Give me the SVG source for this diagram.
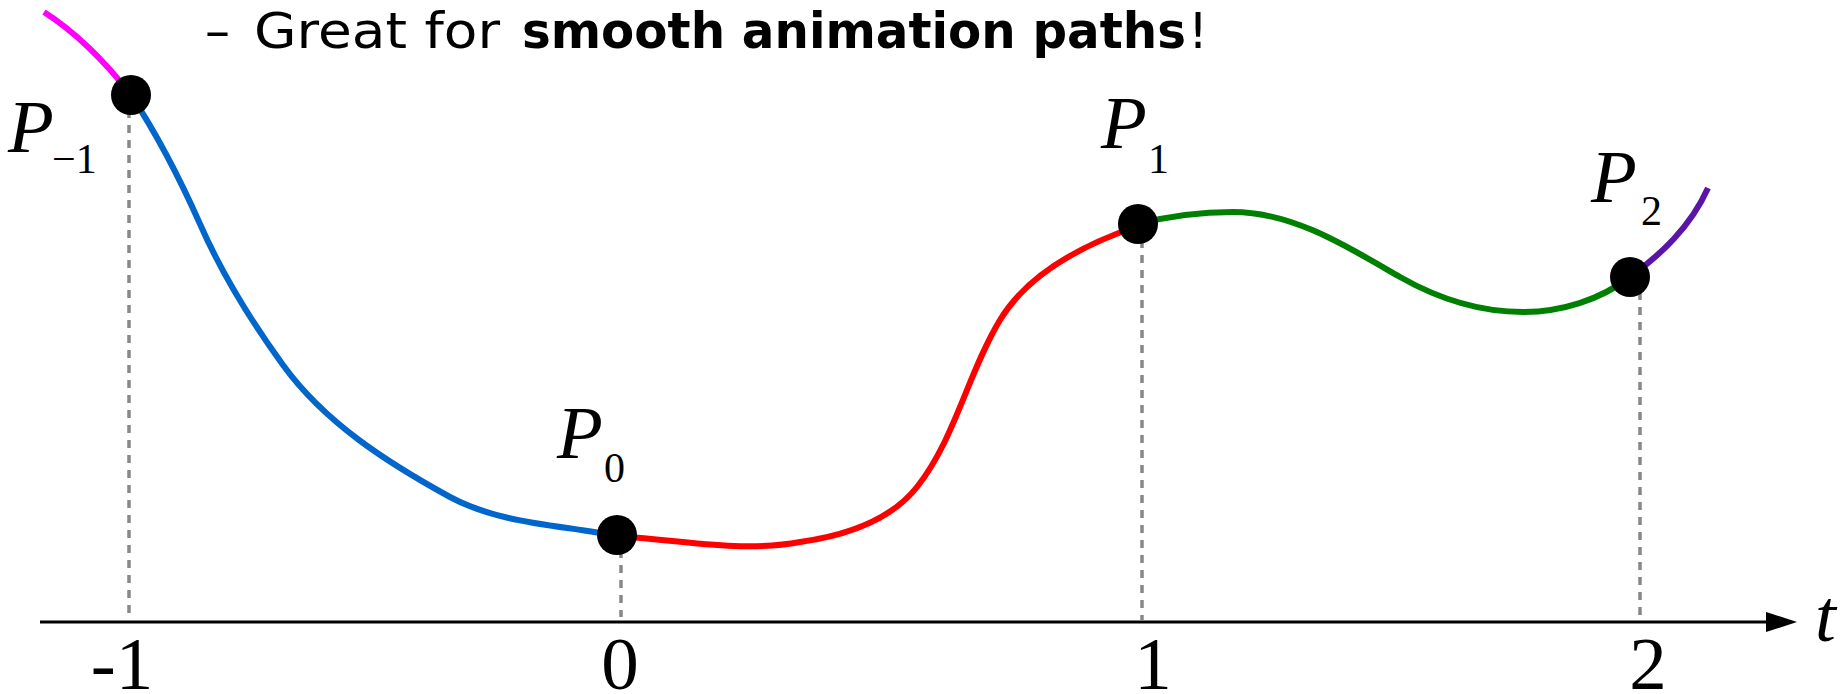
<svg xmlns="http://www.w3.org/2000/svg" width="1846" height="694" viewBox="0 0 1846 694">
<style>
.curve{fill:none;stroke-width:6;stroke-linecap:butt}
.guide{stroke:#888888;stroke-width:3.5;stroke-dasharray:8 7;fill:none}
.pt{fill:#000}
.lbl{font-family:"Liberation Serif","Times New Roman",serif;font-style:italic;fill:#000}
.sub{font-family:"Liberation Serif","Times New Roman",serif;font-style:normal;font-size:42px;fill:#000}
.tick{font-family:"Liberation Serif","Times New Roman",serif;font-size:75px;fill:#000;text-anchor:middle}
.title{font-family:"DejaVu Sans","Liberation Sans",sans-serif;font-size:50px;fill:#000}
</style>
<rect width="1846" height="694" fill="#fff"/>
<text class="title" y="48"><tspan x="205">–</tspan><tspan x="254" textLength="246" lengthAdjust="spacingAndGlyphs">Great for</tspan><tspan x="522" font-weight="bold" textLength="664" lengthAdjust="spacingAndGlyphs">smooth animation paths</tspan><tspan x="1188">!</tspan></text>
<g id="guides">
<line class="guide" x1="129" y1="110" x2="129" y2="620"/>
<line class="guide" x1="621" y1="550" x2="621" y2="617"/>
<line class="guide" x1="1142" y1="240" x2="1142" y2="620"/>
<line class="guide" x1="1640" y1="292" x2="1640" y2="620"/>
</g>
<g id="axis">
<line x1="40" y1="622" x2="1770" y2="622" stroke="#000" stroke-width="3"/>
<polygon points="1797,622 1766,612 1766,632" fill="#000"/>
<text class="lbl" x="1815" y="641" font-size="75">t</text>
<text class="tick" x="122" y="689">-1</text>
<text class="tick" x="620" y="689">0</text>
<text class="tick" x="1153" y="689">1</text>
<text class="tick" x="1648" y="689">2</text>
</g>
<g id="connectors">
<path class="curve" stroke="#ff00ff" d="M44,12 C72,30 100,55 131,95"/>
<path class="curve" stroke="#0066cc" d="M131,95 C158,136 180,179 200,224 C222,274 251,321 283,365 C325,423 388,463 450,497 C500,524 561,525 617,536"/>
<path class="curve" stroke="#ff0000" d="M617,536 C678,540 740,553 800,542 C843,536 890,521 917,487 C955,439 968,373 1000,320 C1029,272 1085,244 1138,226"/>
<path class="curve" stroke="#008000" d="M1138,224 C1169,216 1201,212 1233,212 C1293,212 1348,247 1400,277 C1437,298 1480,312 1523,312 C1561,312 1600,300 1630,277"/>
<path class="curve" stroke="#5b14a8" d="M1630,277 C1660,255 1690,228 1708,188"/>
</g>
<g id="node-pm1">
<circle class="pt" cx="131" cy="95" r="20"/>
<text class="lbl" x="8" y="152" font-size="75">P</text>
<text class="sub" x="52" y="173">−1</text>
</g>
<g id="node-p0">
<circle class="pt" cx="617" cy="535" r="20"/>
<text class="lbl" x="557" y="458" font-size="75">P</text>
<text class="sub" x="604" y="482">0</text>
</g>
<g id="node-p1">
<circle class="pt" cx="1138" cy="224" r="20"/>
<text class="lbl" x="1101" y="148" font-size="75">P</text>
<text class="sub" x="1148" y="173">1</text>
</g>
<g id="node-p2">
<circle class="pt" cx="1630" cy="277" r="20"/>
<text class="lbl" x="1591" y="202" font-size="75">P</text>
<text class="sub" x="1641" y="225">2</text>
</g>
</svg>
